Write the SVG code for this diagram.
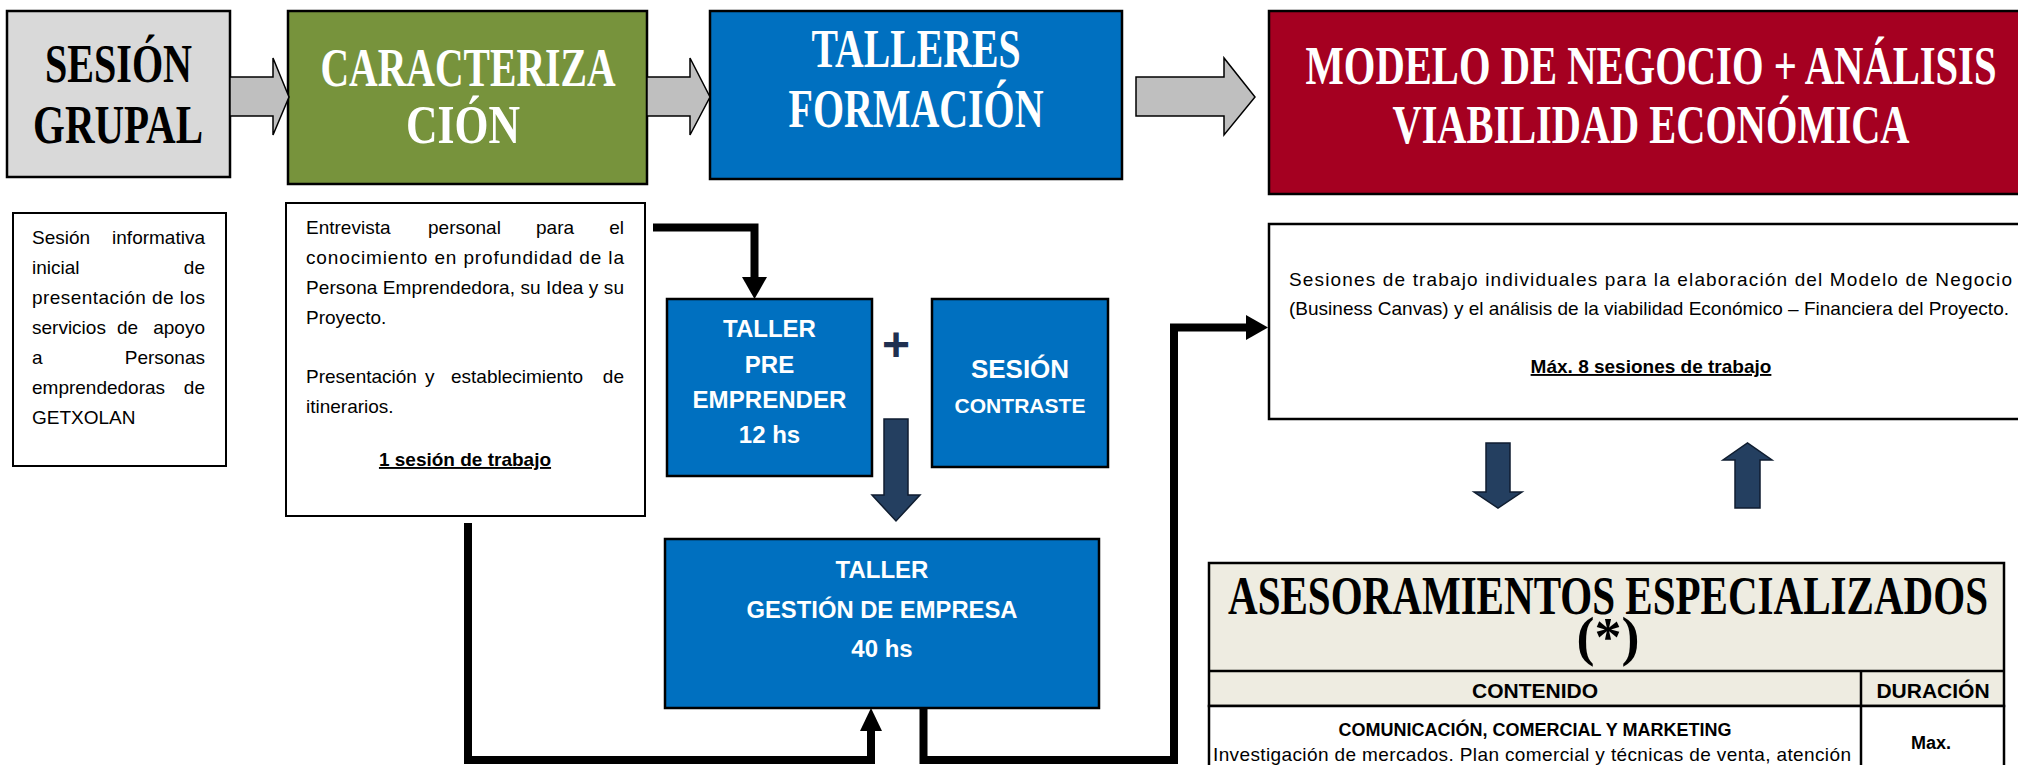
<svg xmlns="http://www.w3.org/2000/svg" width="2018" height="765" viewBox="0 0 2018 765">
<style>
.ttl{font-family:"Liberation Serif",serif;font-weight:bold;font-size:54px;text-anchor:middle}
.w{fill:#fff}
.k{fill:#000}
.body{font-family:"Liberation Sans",Arial,sans-serif;font-size:19px;fill:#000}
.bw{font-family:"Liberation Sans",Arial,sans-serif;font-weight:bold;fill:#fff;text-anchor:middle}
.bk{font-family:"Liberation Sans",Arial,sans-serif;font-weight:bold;fill:#000;text-anchor:middle}
.box{stroke:#000;stroke-width:2.5}
.gray{fill:#bfbfbf;stroke:#000;stroke-width:1.5}
.navy{fill:#243f60;stroke:#0f1d30;stroke-width:1.5}
.blk{fill:none;stroke:#000;stroke-width:8;stroke-linejoin:miter}
.end{text-anchor:end}
</style>

<g id="sesion-grupal">
<rect class="box" x="7" y="11" width="223" height="166" fill="#d9d9d9"/>
<text class="ttl k" x="118.5" y="82" font-size="51" textLength="147" lengthAdjust="spacingAndGlyphs">SESIÓN</text>
<text class="ttl k" x="118" y="143" font-size="51" textLength="170" lengthAdjust="spacingAndGlyphs">GRUPAL</text>
</g>

<g id="caracterizacion">
<rect class="box" x="288" y="11" width="359" height="173" fill="#77933c"/>
<text class="ttl w" x="468" y="86" font-size="56" textLength="295" lengthAdjust="spacingAndGlyphs">CARACTERIZA</text>
<text class="ttl w" x="463" y="143" font-size="56" textLength="114" lengthAdjust="spacingAndGlyphs">CIÓN</text>
</g>

<g id="talleres-formacion">
<rect class="box" x="710" y="11" width="412" height="168" fill="#0070c0"/>
<text class="ttl w" x="916" y="67" textLength="209" lengthAdjust="spacingAndGlyphs">TALLERES</text>
<text class="ttl w" x="916" y="127" textLength="255" lengthAdjust="spacingAndGlyphs">FORMACIÓN</text>
</g>

<g id="modelo-negocio">
<rect class="box" x="1269" y="11" width="770" height="183" fill="#a50021"/>
<text class="ttl w" x="1651" y="84" textLength="691" lengthAdjust="spacingAndGlyphs">MODELO DE NEGOCIO + ANÁLISIS</text>
<text class="ttl w" x="1651" y="143" textLength="517" lengthAdjust="spacingAndGlyphs">VIABILIDAD ECONÓMICA</text>
</g>

<g id="sesion-informativa">
<rect x="13" y="213" width="213" height="253" fill="#fff" stroke="#000" stroke-width="2"/>
<text class="body" x="32" y="244">Sesión</text><text class="body end" x="205" y="244">informativa</text>
<text class="body" x="32" y="274">inicial</text><text class="body end" x="205" y="274">de</text>
<text class="body" x="32" y="304" textLength="173" lengthAdjust="spacing">presentación de los</text>
<text class="body" x="32" y="334">servicios</text><text class="body" x="117" y="334">de</text><text class="body end" x="205" y="334">apoyo</text>
<text class="body" x="32" y="364">a</text><text class="body end" x="205" y="364">Personas</text>
<text class="body" x="32" y="394">emprendedoras</text><text class="body end" x="205" y="394">de</text>
<text class="body" x="32" y="424">GETXOLAN</text>
</g>

<g id="entrevista">
<rect x="286" y="203" width="359" height="313" fill="#fff" stroke="#000" stroke-width="2"/>
<text class="body" x="306" y="234">Entrevista</text><text class="body" x="428" y="234">personal</text><text class="body" x="536" y="234">para</text><text class="body end" x="624" y="234">el</text>
<text class="body" x="306" y="264" textLength="318" lengthAdjust="spacing">conocimiento en profundidad de la</text>
<text class="body" x="306" y="294" textLength="318" lengthAdjust="spacing">Persona Emprendedora, su Idea y su</text>
<text class="body" x="306" y="324">Proyecto.</text>
<text class="body" x="306" y="383">Presentación</text><text class="body" x="425" y="383">y</text><text class="body" x="451" y="383">establecimiento</text><text class="body end" x="624" y="383">de</text>
<text class="body" x="306" y="413">itinerarios.</text>
<text class="bk" x="465" y="466" font-size="19" text-decoration="underline">1 sesión de trabajo</text>
</g>

<g id="taller-pre">
<rect class="box" x="667" y="299" width="205" height="177" fill="#0070c0"/>
<text class="bw" x="769.5" y="337" font-size="24">TALLER</text>
<text class="bw" x="769.5" y="373" font-size="24">PRE</text>
<text class="bw" x="769.5" y="408" font-size="24" textLength="154" lengthAdjust="spacingAndGlyphs">EMPRENDER</text>
<text class="bw" x="769.5" y="443" font-size="24">12 hs</text>
</g>

<g id="plus">
<text x="896" y="361" font-family="Liberation Sans, Arial, sans-serif" font-weight="bold" font-size="48" fill="#1f3050" text-anchor="middle">+</text>
</g>

<g id="sesion-contraste">
<rect class="box" x="932" y="299" width="176" height="168" fill="#0070c0"/>
<text class="bw" x="1020" y="378" font-size="26">SESIÓN</text>
<text class="bw" x="1020" y="413" font-size="21" textLength="131" lengthAdjust="spacingAndGlyphs">CONTRASTE</text>
</g>

<g id="taller-gestion">
<rect class="box" x="665" y="539" width="434" height="169" fill="#0070c0"/>
<text class="bw" x="882" y="578" font-size="24">TALLER</text>
<text class="bw" x="882" y="618" font-size="24" textLength="271" lengthAdjust="spacingAndGlyphs">GESTIÓN DE EMPRESA</text>
<text class="bw" x="882" y="657" font-size="24">40 hs</text>
</g>

<g id="modelo-desc">
<rect x="1269" y="224" width="770" height="195" fill="#fff" stroke="#000" stroke-width="2.5"/>
<text class="body" x="1289" y="286" textLength="723" lengthAdjust="spacing">Sesiones de trabajo individuales para la elaboración del Modelo de Negocio</text>
<text class="body" x="1289" y="315" textLength="720" lengthAdjust="spacing">(Business Canvas) y el análisis de la viabilidad Económico – Financiera del Proyecto.</text>
<text class="bk" x="1651" y="373" font-size="19" text-decoration="underline">Máx. 8 sesiones de trabajo</text>
</g>

<g id="asesoramientos">
<rect x="1209" y="563" width="795" height="143" fill="#eeece1" stroke="#000" stroke-width="2.5"/>
<rect x="1209" y="706" width="795" height="80" fill="#fff" stroke="#000" stroke-width="2.5"/>
<line x1="1209" y1="671" x2="2004" y2="671" stroke="#000" stroke-width="2.5"/>
<line x1="1861" y1="671" x2="1861" y2="770" stroke="#000" stroke-width="2.5"/>
<text class="ttl k" x="1608" y="614" font-size="64" textLength="760" lengthAdjust="spacingAndGlyphs">ASESORAMIENTOS ESPECIALIZADOS</text>
<text class="ttl k" x="1608" y="655" font-size="62">(*)</text>
<text class="bk" x="1535" y="698" font-size="21">CONTENIDO</text>
<text class="bk" x="1933" y="698" font-size="21">DURACIÓN</text>
<text class="bk" x="1535" y="736" font-size="18">COMUNICACIÓN, COMERCIAL Y MARKETING</text>
<text class="body" x="1213" y="761" font-size="18" textLength="638" lengthAdjust="spacing">Investigación de mercados. Plan comercial y técnicas de venta, atención</text>
<text class="bk" x="1931" y="749" font-size="18">Max.</text>
</g>

<g id="connectors">
<polygon class="gray" points="230,77 273,77 273,58 289,97 273,135 273,116 230,116"/>
<polygon class="gray" points="647,77 690,77 690,58 710,97 690,135 690,116 647,116"/>
<polygon class="gray" points="1136,77 1224,77 1224,58 1255,97 1224,135 1224,116 1136,116"/>
<polygon class="navy" points="884,419 908,419 908,495 920,495 896,521 872,495 884,495"/>
<polygon class="navy" points="1486,443 1510,443 1510,492 1522,492 1498,508 1474,492 1486,492"/>
<polygon class="navy" points="1735,508 1760,508 1760,460 1772,460 1747.5,443 1723,460 1735,460"/>
<path class="blk" d="M653 227.5 H754.5 V279"/>
<polygon points="742,277 767,277 754.5,299" fill="#000"/>
<path class="blk" d="M468 523 V760 H871 V729"/>
<polygon points="860,731 882,731 871,708" fill="#000"/>
<path class="blk" d="M923.5 708 V760 H1174 V327.5 H1248"/>
<polygon points="1246,315 1246,340 1268,327.5" fill="#000"/>
</g>
</svg>
